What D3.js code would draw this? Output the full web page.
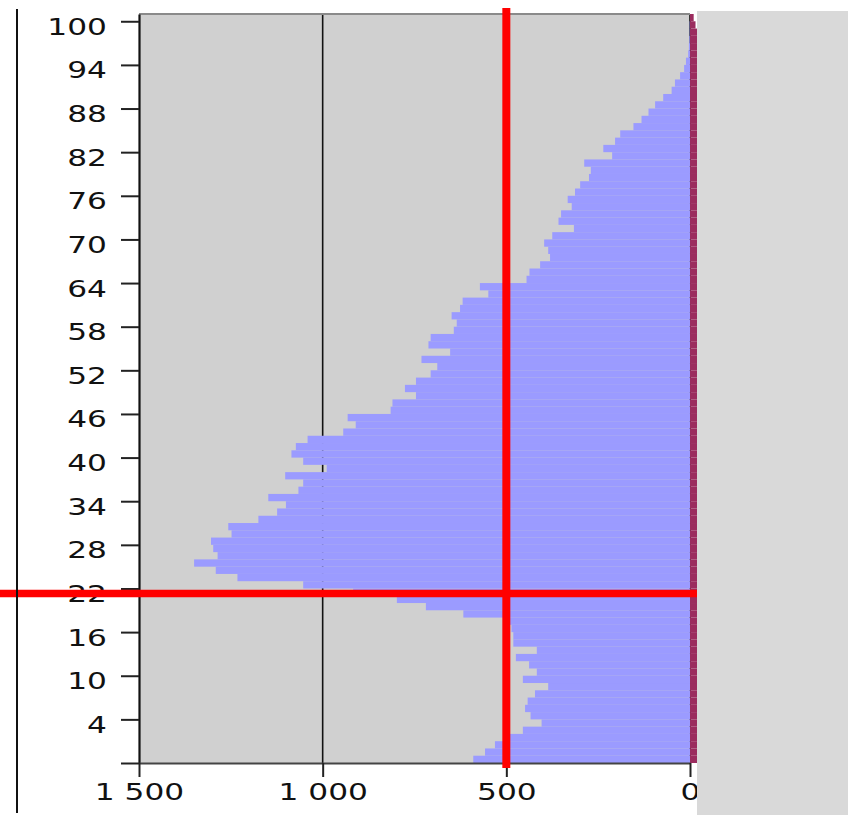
<!DOCTYPE html>
<html>
<head>
<meta charset="utf-8">
<script src="https://cdn.jsdelivr.net/npm/d3@7"></script>
<style>
  body { margin: 0; background: #fff; }
  svg { display: block; }
</style>
</head>
<body>
<svg id="chart" width="848" height="815"></svg>
<script>
// ages from the bottom band (unlabelled) up to 100
const ages = d3.range(-2, 101);

// left side (blue)
const male = [
  590, 558, 531, 505, 455, 404, 434, 449, 442, 422,
  386, 455, 417, 438, 474, 417, 481, 481, 486, 497,
  617, 719, 798, 917, 1053, 1232, 1291, 1350, 1286, 1298,
  1304, 1248, 1257, 1175, 1124, 1100, 1148, 1066, 1053, 1102,
  989, 1053, 1085, 1073, 1041, 944, 910, 932, 815, 810,
  746, 776, 746, 706, 688, 731, 653, 712, 706, 643,
  635, 649, 626, 619, 549, 572, 445, 437, 408, 381,
  386, 397, 375, 316, 358, 351, 322, 333, 313, 299,
  275, 270, 288, 212, 236, 204, 190, 154, 132, 113,
  95, 73, 50, 41, 27, 16, 11, 5, 3, 2,
  1, 1, 0
];

// right side (mostly hidden behind the panel)
const female = [
  560, 530, 505, 480, 430, 390, 415, 425, 420, 400,
  370, 430, 395, 415, 450, 395, 455, 460, 465, 475,
  590, 690, 770, 880, 1010, 1180, 1240, 1300, 1240, 1250,
  1260, 1210, 1220, 1140, 1090, 1070, 1120, 1040, 1030, 1080,
  970, 1040, 1070, 1060, 1030, 940, 905, 930, 820, 815,
  755, 785, 760, 720, 705, 750, 675, 735, 730, 670,
  665, 680, 660, 655, 590, 615, 485, 480, 455, 430,
  440, 455, 435, 375, 425, 420, 395, 410, 390, 380,
  355, 350, 375, 290, 320, 285, 270, 230, 205, 185,
  160, 130, 100, 85, 65, 48, 38, 28, 24, 22,
  20, 15, 10
];

const yTicks = [-2, 4, 10, 16, 22, 28, 34, 40, 46, 52, 58, 64, 70, 76, 82, 88, 94, 100];
const xTicks = [1500, 1000, 500, 0];
const gridValues = [1000, 500, 0];
const refValue = 500;
const refAge = 21.3;

const svg = d3.select('#chart');

const x = d3.scaleLinear().domain([1500, 0]).range([139, 690]);
const y = d3.scaleLinear().domain([-2, 101]).range([763, 14]);

const font = 'DejaVu Sans, Verdana, sans-serif';

// plot background
svg.append('rect')
  .attr('x', x(1500))
  .attr('y', y(101))
  .attr('width', x(0) - x(1500))
  .attr('height', y(-2) - y(101))
  .attr('fill', '#d0d0d0');

// vertical grid
svg.append('g')
  .selectAll('line')
  .data(gridValues)
  .join('line')
  .attr('x1', d => x(d))
  .attr('x2', d => x(d))
  .attr('y1', y(101))
  .attr('y2', y(-2))
  .attr('stroke', '#111')
  .attr('stroke-width', 1.6);

// top border
svg.append('line')
  .attr('x1', x(1500))
  .attr('x2', x(0))
  .attr('y1', y(101))
  .attr('y2', y(101))
  .attr('stroke', '#8a8a8a')
  .attr('stroke-width', 2.2);

// bars
svg.append('g')
  .selectAll('rect')
  .data(ages)
  .join('rect')
  .attr('x', (d, i) => x(male[i]))
  .attr('y', d => y(d + 1))
  .attr('width', (d, i) => x(0) - x(male[i]))
  .attr('height', d => y(d) - y(d + 1))
  .attr('fill', '#9b9bff');

svg.append('g')
  .selectAll('rect')
  .data(ages)
  .join('rect')
  .attr('x', x(0))
  .attr('y', d => y(d + 1))
  .attr('width', (d, i) => x(-female[i]) - x(0))
  .attr('height', d => y(d) - y(d + 1))
  .attr('fill', '#9b2c5e');

// axes
const yAxis = svg.append('g')
  .attr('transform', `translate(${x(1500)},0)`)
  .call(d3.axisLeft(y).tickValues(yTicks).tickSize(18).tickSizeOuter(0)
    .tickFormat(d => d < 0 ? '' : d));

const xAxis = svg.append('g')
  .attr('transform', `translate(0,${y(-2)})`)
  .call(d3.axisBottom(x).tickValues(xTicks).tickSize(14).tickSizeOuter(0)
    .tickFormat(d => d >= 1000 ? d3.format(',')(d).replace(',', ' ') : d));

[yAxis, xAxis].forEach(g => {
  g.attr('font-family', font).attr('font-size', 23.5);
  g.selectAll('.tick line').attr('stroke', '#222').attr('stroke-width', 2);
  g.selectAll('.tick text').attr('fill', '#111');
});
yAxis.select('.domain').attr('stroke', '#111').attr('stroke-width', 2.2);
xAxis.select('.domain').attr('stroke', '#444').attr('stroke-width', 2.2);

yAxis.selectAll('.tick text')
  .attr('x', null)
  .attr('dy', null)
  .attr('transform', 'translate(-32,13) scale(1.33,1)');

xAxis.selectAll('.tick text')
  .attr('y', null)
  .attr('dy', null)
  .attr('transform', 'translate(0,37) scale(1.33,1)');

// reference lines
svg.append('line')
  .attr('x1', x(refValue))
  .attr('x2', x(refValue))
  .attr('y1', 8)
  .attr('y2', 768)
  .attr('stroke', '#ff0000')
  .attr('stroke-width', 8);

svg.append('line')
  .attr('x1', 0)
  .attr('x2', 700)
  .attr('y1', y(refAge))
  .attr('y2', y(refAge))
  .attr('stroke', '#ff0000')
  .attr('stroke-width', 7.5);

// side panel
svg.append('rect')
  .attr('x', 697)
  .attr('y', 11)
  .attr('width', 151)
  .attr('height', 804)
  .attr('fill', '#d9d9d9');

// left frame line
svg.append('line')
  .attr('x1', 17)
  .attr('x2', 17)
  .attr('y1', 9)
  .attr('y2', 813)
  .attr('stroke', '#111')
  .attr('stroke-width', 2);
</script>
</body>
</html>
